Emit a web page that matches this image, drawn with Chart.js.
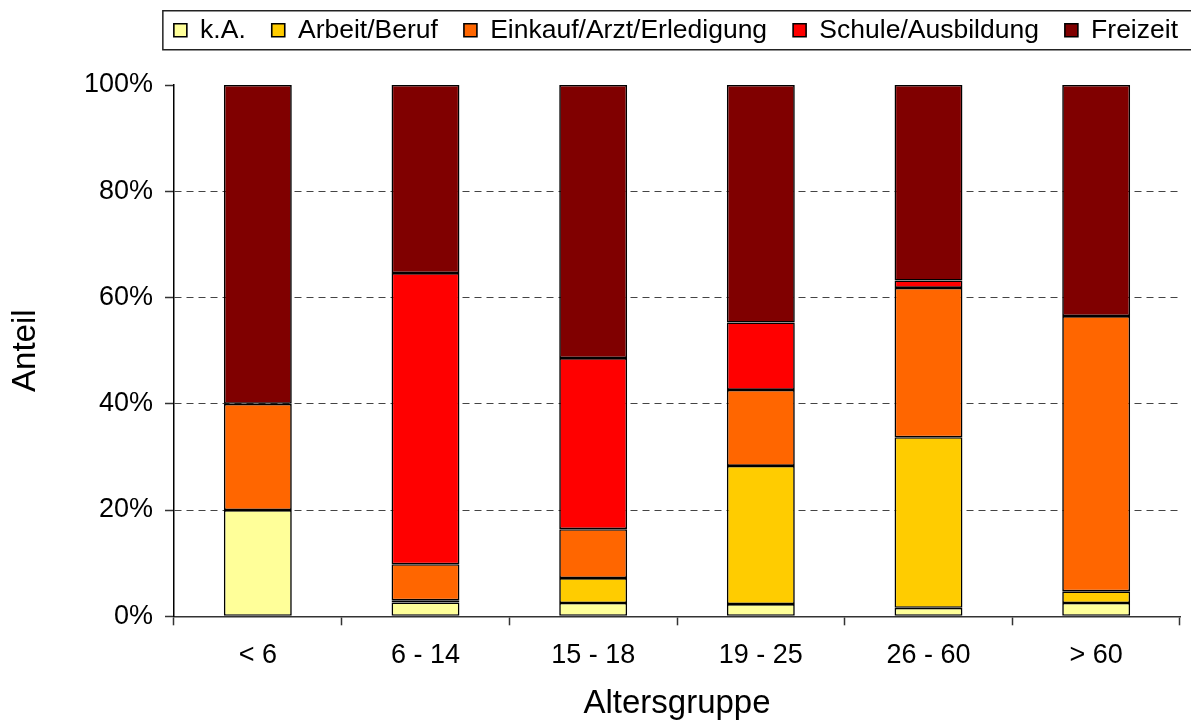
<!DOCTYPE html>
<html>
<head>
<meta charset="utf-8">
<script src="https://cdn.jsdelivr.net/npm/chart.js@4"></script>
<style>
  html, body { margin: 0; padding: 0; background: #fff; }
  #wrap { width: 1191px; height: 722px; }
</style>
</head>
<body>
<div id="wrap"><canvas id="chartCanvas"></canvas></div>
<script>
// Altersgruppen
const altersgruppen = ['< 6', '6 - 14', '15 - 18', '19 - 25', '26 - 60', '> 60'];

// Anteile in % je Wegezweck (gestapelt)
const kA        = [20.0, 2.6, 2.5, 2.3, 1.6, 2.5];
const arbeit    = [0.0, 0.4, 4.7, 26.0, 32.1, 2.2];
const einkauf   = [20.0, 6.8, 9.2, 14.3, 28.1, 51.8];
const schule    = [0.0, 54.8, 32.2, 12.7, 1.4, 0.0];
const freizeit  = [60.0, 35.4, 51.4, 44.7, 36.8, 43.5];

const yTicks = [0, 20, 40, 60, 80, 100];

const font = 'Arial, "Liberation Sans", sans-serif';

function ds(label, data, color) {
  return {
    label: label,
    data: data.map(v => (v === 0 ? null : v)), // leere Segmente nicht zeichnen
    backgroundColor: color,
    borderColor: '#000',
    borderWidth: 1.6,
    borderSkipped: false,
    barPercentage: 0.405,
    categoryPercentage: 1.0
  };
}

// legend: fixed height, shifted like in the Excel chart, with a frame
const legendTweak = {
  id: 'legendTweak',
  beforeInit(chart) {
    const lg = chart.legend;
    const origFit = lg.fit;
    lg.fit = function () {
      origFit.call(this);
      this.height = 85;
    };
  },
  afterLayout(chart) {
    const lg = chart.legend;
    lg.left += 24;
    lg.right += 24;
    lg.top = -9;
  },
  afterDraw(chart) {
    const lg = chart.legend;
    const pad = lg.options.labels.padding;
    const size = lg.options.labels.font.size;
    const startX = lg.right - lg.lineWidths[0];
    const midY = lg.top + pad + size / 2;
    const ctx = chart.ctx;
    ctx.save();
    ctx.strokeStyle = '#222';
    ctx.lineWidth = 1.5;
    ctx.strokeRect(startX - 11, midY - 19.5, chart.width - startX + 40, 39);
    ctx.restore();
  }
};

const ctx = document.getElementById('chartCanvas').getContext('2d');
new Chart(ctx, {
  type: 'bar',
  data: {
    labels: altersgruppen,
    datasets: [
      ds('k.A.', kA, '#FFFF99'),
      ds('Arbeit/Beruf', arbeit, '#FFCC00'),
      ds('Einkauf/Arzt/Erledigung', einkauf, '#FF6600'),
      ds('Schule/Ausbildung', schule, '#FF0000'),
      ds('Freizeit', freizeit, '#800000')
    ]
  },
  options: {
    responsive: true,
    maintainAspectRatio: false,
    animation: false,
    layout: { padding: { left: 0, right: 11, top: 0, bottom: 0 } },
    scales: {
      x: {
        stacked: true,
        offset: true,
        grid: {
          offset: true,
          drawOnChartArea: false,
          drawTicks: true,
          tickLength: 9,
          tickColor: '#333',
          tickWidth: 1.5
        },
        border: { color: '#333', width: 1.5 },
        ticks: { color: '#000', font: { size: 27, family: font }, padding: 14 },
        title: {
          display: true,
          text: 'Altersgruppe',
          color: '#000',
          font: { size: 33, family: font, lineHeight: 1.1 },
          padding: { top: 0, bottom: 0 }
        }
      },
      y: {
        stacked: true,
        min: 0,
        max: 100,
        afterBuildTicks: (axis) => { axis.ticks = yTicks.map(v => ({ value: v })); },
        afterFit: (axis) => { axis.width = 174; },
        grid: {
          color: (c) => (c.tick && (c.tick.value === 0 || c.tick.value === 100)) ? 'rgba(0,0,0,0)' : '#444',
          lineWidth: 1,
          drawTicks: true,
          tickLength: 9,
          tickColor: '#333',
          tickWidth: 1.5
        },
        border: { color: '#000', width: 1.5, dash: [7, 5] },
        ticks: {
          color: '#000',
          font: { size: 27, family: font },
          padding: 12,
          callback: (v) => v + '%'
        },
        title: {
          display: true,
          text: 'Anteil',
          color: '#000',
          font: { size: 33, family: font },
          padding: { top: 6, bottom: 0 }
        }
      }
    },
    plugins: {
      legend: {
        display: true,
        position: 'top',
        align: 'end',
        labels: {
          color: '#000',
          font: { size: 26.5, family: font },
          boxWidth: 13,
          boxHeight: 13,
          padding: 26,
          useBorderRadius: false
        }
      },
      tooltip: { enabled: false }
    }
  },
  plugins: [legendTweak]
});
</script>
</body>
</html>
